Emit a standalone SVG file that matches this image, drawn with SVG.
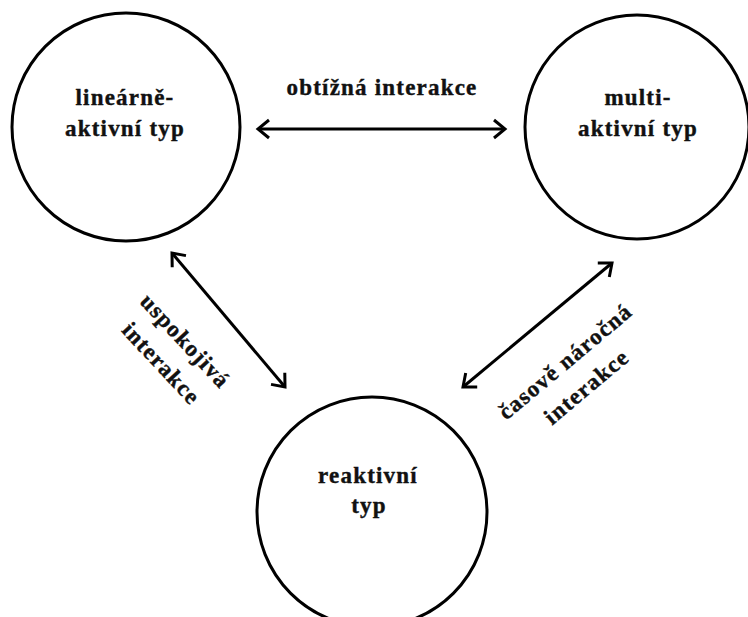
<svg xmlns="http://www.w3.org/2000/svg" width="748" height="617" viewBox="0 0 748 617">
<style>
.node{fill:#fff;stroke:#000;stroke-width:3}
.lbl{font-family:"Liberation Serif","Times New Roman",serif;font-weight:bold;font-size:23px;letter-spacing:1.2px;fill:#111;stroke:#111;stroke-width:0.4px;text-anchor:middle}
.con{stroke:#000;stroke-width:3;fill:none;marker-start:url(#ah);marker-end:url(#ah)}
</style>
<defs>
<marker id="ah" markerUnits="userSpaceOnUse" viewBox="-16 -12 20 24" markerWidth="20" markerHeight="24" refX="0" refY="0" orient="auto-start-reverse">
<path d="M -11 -9 L 0 0 L -11 9" fill="none" stroke="#000" stroke-width="3"/>
</marker>
</defs>
<rect width="748" height="617" fill="#fff"/>
<g id="connectors">
<line class="con" x1="258" y1="129" x2="505" y2="129"/>
<line class="con" x1="172" y1="253" x2="285" y2="387"/>
<line class="con" x1="463" y1="387" x2="612" y2="263"/>
<text class="lbl" x="382" y="95">obtížná interakce</text>
<g transform="translate(172.5,353) rotate(47)">
<text class="lbl" x="0" y="-10">uspokojivá</text>
<text class="lbl" x="0" y="23">interakce</text>
</g>
<g transform="translate(576.5,375) rotate(-40)">
<text class="lbl" x="0" y="-10">časově náročná</text>
<text class="lbl" x="0" y="23">interakce</text>
</g>
</g>
<g id="linearne-aktivni">
<circle class="node" cx="126" cy="127" r="114"/>
<text class="lbl" x="125" y="105">lineárně-</text>
<text class="lbl" x="125" y="136">aktivní typ</text>
</g>
<g id="multi-aktivni">
<circle class="node" cx="637" cy="127" r="112"/>
<text class="lbl" x="638" y="105">multi-</text>
<text class="lbl" x="638" y="136">aktivní typ</text>
</g>
<g id="reaktivni">
<circle class="node" cx="372" cy="512" r="115"/>
<text class="lbl" x="368" y="483">reaktivní</text>
<text class="lbl" x="369" y="513">typ</text>
</g>
</svg>
